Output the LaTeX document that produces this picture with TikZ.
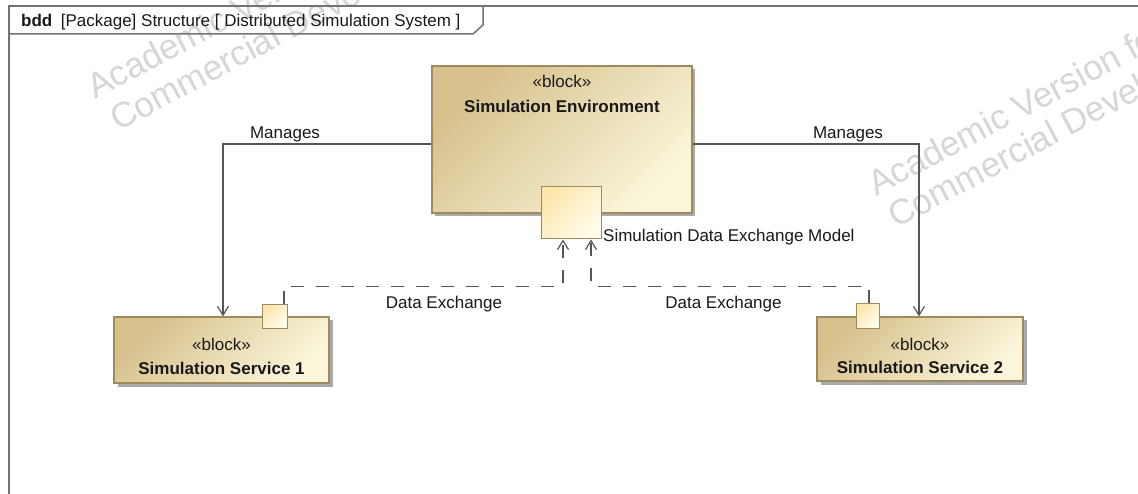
\documentclass[tikz,border=0pt]{standalone}
\usepackage{fontspec}
\setmainfont{Liberation Sans}
\usetikzlibrary{arrows.meta,calc}
\definecolor{blkD}{RGB}{214,192,140}
\definecolor{blkL}{RGB}{251,246,218}
\definecolor{prtD}{RGB}{252,230,172}
\definecolor{prtL}{RGB}{255,252,236}
\definecolor{blkB}{RGB}{158,138,92}
\definecolor{lineC}{RGB}{85,85,85}
\definecolor{wmC}{RGB}{214,214,214}
\definecolor{frameC}{RGB}{115,115,115}
\definecolor{shadC}{RGB}{170,170,170}
\begin{document}
\begin{tikzpicture}[x=1pt,y=-1pt,
  block/.style={draw=blkB, line width=1.2pt, top color=blkD, bottom color=blkL, shading angle=45, inner sep=0pt},
  shadowbox/.style={fill=shadC, draw=none, inner sep=0pt},
  port/.style={draw=blkB, line width=1pt, top color=prtD, bottom color=prtL, shading angle=45, inner sep=0pt},
  txt/.style={font=\fontsize{17}{20}\selectfont, inner sep=0pt, text=black!90},
  btxt/.style={font=\fontsize{17}{20}\selectfont\bfseries, inner sep=0pt, text=black!90},
  wm/.style={font=\fontsize{35}{38}\selectfont, inner sep=0pt, text=wmC, rotate=28, anchor=base west},
  mng/.style={draw=lineC, line width=1.2pt, -{Straight Barb[length=9pt,width=11pt]}},
  dex/.style={draw=lineC, line width=1.2pt, dash pattern=on 13pt off 12pt, -{Straight Barb[length=9pt,width=11pt]}},
  framel/.style={draw=frameC, line width=1.5pt}
]
\useasboundingbox (0,0) rectangle (1138,494);
\clip (0,0) rectangle (1138,494);
\fill[white] (0,0) rectangle (1138,494);

% watermarks
\node[wm] (wm1) at (95,100) {Academic Version for};
\node[wm] (wm2) at (118,132) {Commercial Development};
\node[wm] (wm3) at (876,197) {Academic Version for};
\node[wm] (wm4) at (896,229) {Commercial Development};

% frame
\draw[framel] (9,500) -- (9,6) -- (1145,6);
\draw[framel] (9,34) -- (473,34) -- (483,25) -- (483,6);
\node[txt, anchor=base west] (hdr) at (21,27) {\textbf{bdd}\hspace{8.5pt}[Package] Structure [ Distributed Simulation System ]};

% blocks
\node[shadowbox, minimum width=260pt, minimum height=147pt] (envsh) at (565,142.5) {};
\node[block, minimum width=260pt, minimum height=147pt] (env) at (562,139.5) {};
\node[shadowbox, minimum width=215pt, minimum height=66pt] (s1sh) at (225,353.5) {};
\node[block, minimum width=215pt, minimum height=66pt] (s1) at (221.5,350) {};
\node[shadowbox, minimum width=206pt, minimum height=64pt] (s2sh) at (923.5,352.5) {};
\node[block, minimum width=206pt, minimum height=64pt] (s2) at (920,349) {};

\node[txt, anchor=base] (envst) at (562,87.3) {«block»};
\node[btxt, anchor=base] (envtt) at (562,112.7) {Simulation Environment};
\node[txt, anchor=base] (s1st) at (221.5,350) {«block»};
\node[btxt, anchor=base] (s1tt) at (221.5,374) {Simulation Service 1};
\node[txt, anchor=base] (s2st) at (920,350) {«block»};
\node[btxt, anchor=base] (s2tt) at (920,373) {Simulation Service 2};

% ports
\node[port, minimum width=60pt, minimum height=52pt] (envport) at (571,213) {};
\node[port, minimum width=25pt, minimum height=24pt] (s1port) at (274.5,317) {};
\node[port, minimum width=23pt, minimum height=25pt] (s2port) at (867.5,316.5) {};
\node[txt, anchor=base west] (envportl) at (603,241.7) {Simulation Data Exchange Model};

% Manages connectors
\draw[mng] ([yshift=-4.5pt]env.west) -| ([xshift=1.5pt]s1.north);
\draw[mng] ([yshift=-4.5pt]env.east) -| ([xshift=-1pt]s2.north);
\node[txt, anchor=base] (m1) at (285,139) {Manages};
\node[txt, anchor=base] (m2) at (848,139) {Manages};

% Data exchange connectors
\draw[dex] ([xshift=9.5pt]s1port.north) -- ++(0,-18) -| ([xshift=-8pt]envport.south);
\draw[dex] ([xshift=1.5pt]s2port.north) -- ++(0,-17) -| ([xshift=20pt]envport.south);
\node[txt, anchor=base] (d1) at (444,309) {Data Exchange};
\node[txt, anchor=base] (d2) at (723.5,309) {Data Exchange};
\end{tikzpicture}
\end{document}
